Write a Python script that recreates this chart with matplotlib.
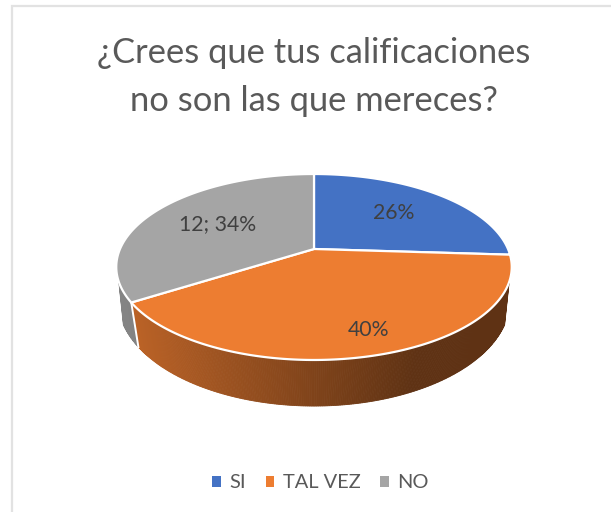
import numpy as np
import matplotlib
matplotlib.use("Agg")
import matplotlib.pyplot as plt
from matplotlib.patches import Patch
from matplotlib.colors import to_rgb

title = "¿Crees que tus calificaciones\nno son las que mereces?"
categories = ["SI", "TAL VEZ", "NO"]
shares = [26, 40, 34]
data_labels = ["26%", "40%", "12; 34%"]
colors = ["#4472C4", "#ED7D31", "#A5A5A5"]
label_pos = [(394, 213), (369, 330), (218, 224)]

# perspective pie geometry in pixel coordinates
CX = 314
TOP = dict(a=194, b=89.5, k=0.1935, cy=249)
BOT = dict(a=194.6, b=104.5, k=0.12, cy=287.3)


def project(theta, g):
    x, y = np.sin(theta), np.cos(theta)
    d = 1 + g["k"] * y
    return CX + g["a"] * x / d, g["cy"] - g["b"] * y / d


def side_color(i, px):
    """Darkening from left to right along the rim."""
    base = np.array(to_rgb(colors[i]))
    f = np.clip((px - 130) / (410 - 130), 0, 1)
    return base * (0.80 + (0.40 - 0.80) * f)


fig = plt.figure(figsize=(6.11, 5.12), dpi=100)
ax = fig.add_axes([0, 0, 1, 1])
ax.set_xlim(0, 611)
ax.set_ylim(512, 0)
ax.axis("off")

# chart frame (left and top edges are visible)
ax.plot([12, 12, 611], [512, 6, 6], color="#E2E2E2", lw=1.6, solid_joinstyle="miter", zorder=1)

edges = np.radians(np.cumsum([0] + shares) * 3.6)

# rim
for i in range(len(shares)):
    lo, hi = max(edges[i], np.radians(110)), min(edges[i + 1], np.radians(250))
    if hi <= lo:
        continue
    n = max(2, int((hi - lo) * 120))
    ts = np.linspace(lo, hi, n + 1)
    for t0, t1 in zip(ts[:-1], ts[1:]):
        ux0, uy0 = project(t0, TOP)
        ux1, uy1 = project(t1, TOP)
        lx0, ly0 = project(t0, BOT)
        lx1, ly1 = project(t1, BOT)
        c = side_color(i, (lx0 + lx1) / 2)
        ax.fill([ux0, ux1, lx1, lx0], [uy0, uy1, ly1, ly0], color=c, lw=0.6, zorder=2)

# white divider on the rim between slices
t = edges[2]
ux, uy = project(t, TOP)
lx, ly = project(t, BOT)
ax.plot([ux, lx], [uy, ly], color="white", lw=1.4, zorder=3)

# top face
for i in range(len(shares)):
    ts = np.linspace(edges[i], edges[i + 1], 200)
    px, py = project(ts, TOP)
    ax.fill(np.r_[CX, px], np.r_[TOP["cy"], py], facecolor=colors[i], edgecolor="white", lw=1.6,
            joinstyle="round", zorder=4)

for lab, (lx, ly) in zip(data_labels, label_pos):
    ax.text(lx, ly, lab, ha="center", va="center", fontsize=15.3, color="#404040", family="Lato", zorder=5)

ax.text(314, 77, title, ha="center", va="center", fontsize=24.8, color="#595959", family="Lato",
        linespacing=1.62, zorder=5)

handles = [Patch(facecolor=c, edgecolor="none") for c in colors]
leg = ax.legend(handles, categories, loc="center", bbox_to_anchor=(320.5 / 611, 1 - 483 / 512), ncol=3,
                frameon=False, handlelength=0.42, handleheight=0.42, handletextpad=0.42, columnspacing=1.0,
                prop={"family": "Lato", "size": 14.4}, labelcolor="#595959", borderpad=0, borderaxespad=0)

fig.savefig("out.png", dpi=100, facecolor="white")
